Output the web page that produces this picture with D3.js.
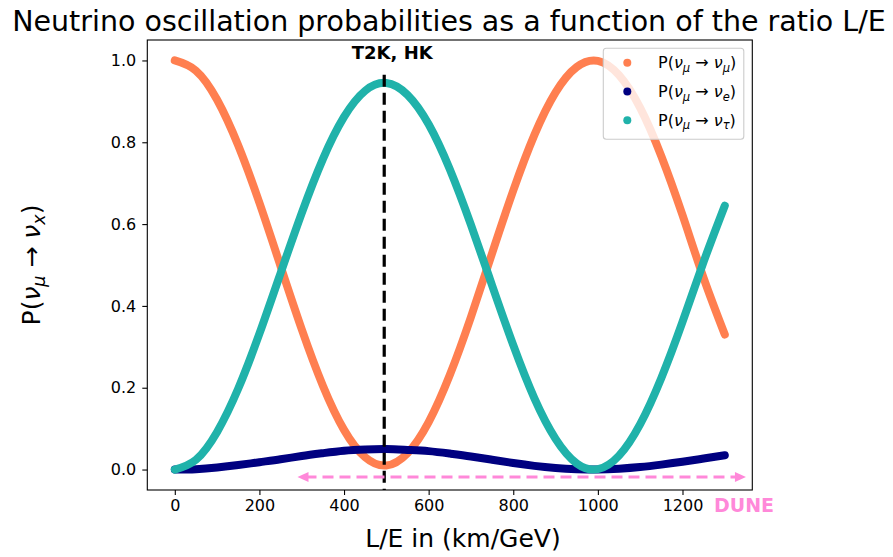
<!DOCTYPE html>
<html>
<head>
<meta charset="utf-8">
<script src="https://cdn.jsdelivr.net/npm/d3@7"></script>
<style>
  html, body { margin: 0; padding: 0; background: #fff; }
  svg { display: block; font-family: "DejaVu Sans", sans-serif; }
</style>
</head>
<body>
<svg id="chart" width="893" height="557"></svg>
<script>
// L/E samples in km/GeV
const lOverE = [0, 50, 100, 150, 200, 250, 300, 350, 400, 450, 500, 550, 600, 650,
                700, 750, 800, 850, 900, 950, 1000, 1050, 1100, 1150, 1200, 1250, 1300];
// P(nu_mu -> nu_mu)
const pMuMu = [1.000, 0.975, 0.904, 0.792, 0.652, 0.497, 0.343, 0.205, 0.097, 0.030, 0.010,
               0.040, 0.116, 0.231, 0.373, 0.529, 0.682, 0.818, 0.922, 0.984, 0.999,
               0.964, 0.884, 0.766, 0.622, 0.468, 0.330];
// P(nu_mu -> nu_e)
const pMuE = [0.000, 0.001, 0.005, 0.011, 0.018, 0.025, 0.033, 0.040, 0.046, 0.049, 0.050,
              0.048, 0.045, 0.039, 0.032, 0.024, 0.016, 0.009, 0.004, 0.001, 0.000,
              0.002, 0.006, 0.012, 0.019, 0.027, 0.035];
// P(nu_mu -> nu_tau)
const pMuTau = [0.000, 0.024, 0.092, 0.198, 0.332, 0.480, 0.627, 0.759, 0.862, 0.926, 0.945,
                0.916, 0.844, 0.734, 0.598, 0.450, 0.304, 0.174, 0.075, 0.015, 0.001,
                0.034, 0.111, 0.224, 0.361, 0.508, 0.645];

const xTicks = [0, 200, 400, 600, 800, 1000, 1200];
const yTicks = [0.0, 0.2, 0.4, 0.6, 0.8, 1.0];

const seriesNames = [
  { sub1: "μ", sub2: "μ", color: "#ff7f50", values: pMuMu },
  { sub1: "μ", sub2: "e", color: "#000080", values: pMuE },
  { sub1: "μ", sub2: "τ", color: "#20b2aa", values: pMuTau }
];

// Experiment markers (data coordinates)
const t2kLE = 495;
const duneRange = [290, 1350];
const duneLevel = -0.018;

const svg = d3.select("#chart");
const x = d3.scaleLinear().domain([-65, 1365]).range([147.3, 752.3]);
const y = d3.scaleLinear().domain([-0.05, 1.05]).range([490, 40]);

// Title
svg.append("text")
  .attr("x", 449).attr("y", 31)
  .attr("text-anchor", "middle")
  .attr("font-size", 28.5)
  .text("Neutrino oscillation probabilities as a function of the ratio L/E");

// Curves
const line = d3.line()
  .x((d, i) => x(lOverE[i]))
  .y(d => y(d))
  .curve(d3.curveNatural);

const plot = svg.append("g");
seriesNames.forEach(s => {
  plot.append("path")
    .attr("d", line(s.values))
    .attr("fill", "none")
    .attr("stroke", s.color)
    .attr("stroke-width", 8)
    .attr("stroke-linecap", "round")
    .attr("stroke-linejoin", "round");
});

// T2K / HK vertical marker
svg.append("line")
  .attr("x1", x(t2kLE)).attr("x2", x(t2kLE))
  .attr("y1", y(0.965)).attr("y2", y(-0.05))
  .attr("stroke", "#000").attr("stroke-width", 3.2)
  .attr("stroke-dasharray", "12,6");
svg.append("text")
  .attr("x", x(t2kLE) + 8).attr("y", 59)
  .attr("text-anchor", "middle")
  .attr("font-size", 18).attr("font-weight", "bold")
  .text("T2K, HK");

// DUNE range arrow
const pink = "#ff88d9";
const ay = y(duneLevel);
const ax0 = x(duneRange[0]), ax1 = x(duneRange[1]);
svg.append("line")
  .attr("x1", ax0 + 8).attr("x2", ax1 - 8)
  .attr("y1", ay).attr("y2", ay)
  .attr("stroke", pink).attr("stroke-width", 3)
  .attr("stroke-dasharray", "11,6");
svg.append("path")
  .attr("d", `M${ax0},${ay} L${ax0 + 11},${ay - 5} L${ax0 + 11},${ay + 5} Z`)
  .attr("fill", pink);
svg.append("path")
  .attr("d", `M${ax1},${ay} L${ax1 - 11},${ay - 5} L${ax1 - 11},${ay + 5} Z`)
  .attr("fill", pink);
svg.append("text")
  .attr("x", 744).attr("y", 512)
  .attr("text-anchor", "middle")
  .attr("font-size", 19).attr("font-weight", "bold")
  .attr("fill", pink)
  .text("DUNE");

// Axes
const xAxis = svg.append("g")
  .attr("transform", "translate(0,490)")
  .call(d3.axisBottom(x).tickValues(xTicks).tickFormat(d3.format("d")).tickSize(5).tickPadding(5));
const yAxis = svg.append("g")
  .attr("transform", "translate(147.3,0)")
  .call(d3.axisLeft(y).tickValues(yTicks).tickFormat(d3.format(".1f")).tickSize(5).tickPadding(6));
[xAxis, yAxis].forEach(g => {
  g.select(".domain").remove();
  g.selectAll("text").attr("font-size", 16).attr("font-family", "DejaVu Sans").attr("fill", "#000");
  g.selectAll("line").attr("stroke", "#000").attr("stroke-width", 1.1);
});

// Frame
svg.append("rect")
  .attr("x", 147.3).attr("y", 40)
  .attr("width", 752.3 - 147.3).attr("height", 450)
  .attr("fill", "none").attr("stroke", "#000").attr("stroke-width", 1.1);

// Axis labels
svg.append("text")
  .attr("x", 463).attr("y", 547)
  .attr("text-anchor", "middle")
  .attr("font-size", 25)
  .text("L/E in (km/GeV)");

const yl = svg.append("text")
  .attr("transform", "translate(40,265) rotate(-90)")
  .attr("text-anchor", "middle")
  .attr("font-size", 25);
yl.append("tspan").text("P(");
yl.append("tspan").attr("font-style", "italic").text("ν");
yl.append("tspan").attr("font-style", "italic").attr("font-size", 17.5).attr("dy", 5).text("μ");
yl.append("tspan").attr("dy", -5).text(" → ");
yl.append("tspan").attr("font-style", "italic").text("ν");
yl.append("tspan").attr("font-style", "italic").attr("font-size", 17.5).attr("dy", 5).text("x");
yl.append("tspan").attr("dy", -5).text(")");

// Legend
const legend = svg.append("g");
legend.append("rect")
  .attr("x", 603.3).attr("y", 48.3)
  .attr("width", 140.5).attr("height", 91)
  .attr("rx", 3)
  .attr("fill", "#fff").attr("fill-opacity", 0.8)
  .attr("stroke", "#cccccc").attr("stroke-width", 1.1);
seriesNames.forEach((s, i) => {
  const cy = 62.7 + i * 28.8;
  legend.append("circle").attr("cx", 627.3).attr("cy", cy).attr("r", 4).attr("fill", s.color);
  const t = legend.append("text")
    .attr("x", 658).attr("y", cy + 5.5)
    .attr("font-size", 16);
  t.append("tspan").text("P(");
  t.append("tspan").attr("font-style", "italic").text("ν");
  t.append("tspan").attr("font-style", "italic").attr("font-size", 11.5).attr("dy", 3.5).text(s.sub1);
  t.append("tspan").attr("dy", -3.5).text(" → ");
  t.append("tspan").attr("font-style", "italic").text("ν");
  t.append("tspan").attr("font-style", "italic").attr("font-size", 11.5).attr("dy", 3.5).text(s.sub2);
  t.append("tspan").attr("dy", -3.5).text(")");
});
</script>
</body>
</html>
